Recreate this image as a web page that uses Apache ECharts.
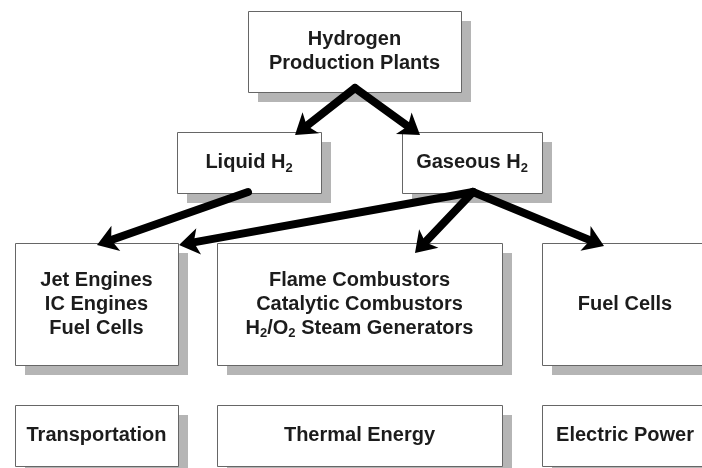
<!DOCTYPE html>
<html>
<head>
<meta charset="utf-8">
<script src="https://cdn.jsdelivr.net/npm/echarts@6/dist/echarts.min.js"></script>
<style>
  html, body { margin: 0; padding: 0; background: #fff; }
  #chart { width: 702px; height: 468px; }
</style>
</head>
<body>
<div id="chart"></div>
<script>
// boxes of the diagram (diagram units, y grows downward)
var boxNames = [
  'Hydrogen\nProduction Plants',
  'Liquid H{s|2}',
  'Gaseous H{s|2}',
  'Jet Engines\nIC Engines\nFuel Cells',
  'Flame Combustors\nCatalytic Combustors\nH{s|2}/O{s|2} Steam Generators',
  'Fuel Cells',
  'Transportation',
  'Thermal Energy',
  'Electric Power'
];
var boxX0 = [248, 177, 402, 15, 217, 542, 15, 217, 542];
var boxX1 = [461, 321, 542, 178, 502, 708, 178, 502, 708];
var boxY0 = [11, 132, 132, 243, 243, 243, 405, 405, 405];
var boxY1 = [92, 193, 193, 365, 365, 365, 466, 466, 466];

// arrows: start point -> tip
var arrowFrom = [[355, 88], [355, 88], [248, 192], [473, 192], [473, 192], [473, 192]];
var arrowTo = [[295, 135], [420, 135], [97, 245], [179, 245], [415, 253], [604, 246]];

var HEAD = [17, 20]; // 箭头宽, 长

var myChart = echarts.init(document.getElementById('chart'));

var boxData = boxNames.map(function (n, i) {
  return [boxX0[i], boxY0[i], boxX1[i], boxY1[i]];
});
// heads go to the tip; the shaft stops inside the head so it does not poke out
var headData = arrowFrom.map(function (p, i) {
  return { coords: [p, arrowTo[i]] };
});
var shaftData = arrowFrom.map(function (p, i) {
  var t = arrowTo[i];
  var dx = t[0] - p[0], dy = t[1] - p[1];
  var len = Math.sqrt(dx * dx + dy * dy);
  var k = 12 / len;
  return { coords: [p, [t[0] - dx * k, t[1] - dy * k]] };
});

var FONT = '"Liberation Sans", Arial, sans-serif';

function renderBox(params, api) {
  var p0 = api.coord([api.value(0), api.value(1)]);
  var p1 = api.coord([api.value(2), api.value(3)]);
  var w = p1[0] - p0[0];
  var h = p1[1] - p0[1];
  return {
    type: 'group',
    children: [
      { // 阴影
        type: 'rect',
        shape: { x: p0[0] + 10, y: p0[1] + 10, width: w, height: h },
        style: { fill: '#b5b5b5' }
      },
      {
        type: 'rect',
        shape: { x: p0[0] + 0.5, y: p0[1] + 0.5, width: w, height: h },
        style: { fill: '#fff', stroke: '#666', lineWidth: 1 }
      },
      {
        type: 'text',
        x: p0[0] + w / 2,
        y: p0[1] + h / 2,
        style: {
          text: boxNames[params.dataIndex],
          align: 'center',
          verticalAlign: 'middle',
          fontSize: 20,
          fontWeight: 'bold',
          fontFamily: FONT,
          lineHeight: 24,
          fill: '#1c1c1c',
          rich: {
            s: {
              fontSize: 13,
              fontWeight: 'bold',
              fontFamily: FONT,
              lineHeight: 6,
              verticalAlign: 'bottom',
              fill: '#1c1c1c'
            }
          }
        }
      }
    ]
  };
}

var option = {
  animation: false,
  grid: { left: 0, right: 0, top: 0, bottom: 0 },
  xAxis: { type: 'value', min: 0, max: 702, show: false },
  yAxis: { type: 'value', min: 0, max: 468, inverse: true, show: false },
  series: [
    {
      type: 'custom',
      renderItem: renderBox,
      encode: { x: [0, 2], y: [1, 3] },
      data: boxData,
      z: 2
    },
    {
      type: 'lines',
      coordinateSystem: 'cartesian2d',
      symbol: 'none',
      lineStyle: { color: '#000', width: 8, opacity: 1, curveness: 0, cap: 'round' },
      data: shaftData,
      z: 5
    },
    {
      type: 'lines',
      coordinateSystem: 'cartesian2d',
      symbol: ['none', 'arrow'],
      symbolSize: HEAD,
      lineStyle: { color: '#000', width: 0, opacity: 1, curveness: 0 },
      data: headData,
      z: 6
    }
  ]
};
myChart.setOption(option);
window.addEventListener('resize', function () {
  myChart.resize();
});
</script>
</body>
</html>
